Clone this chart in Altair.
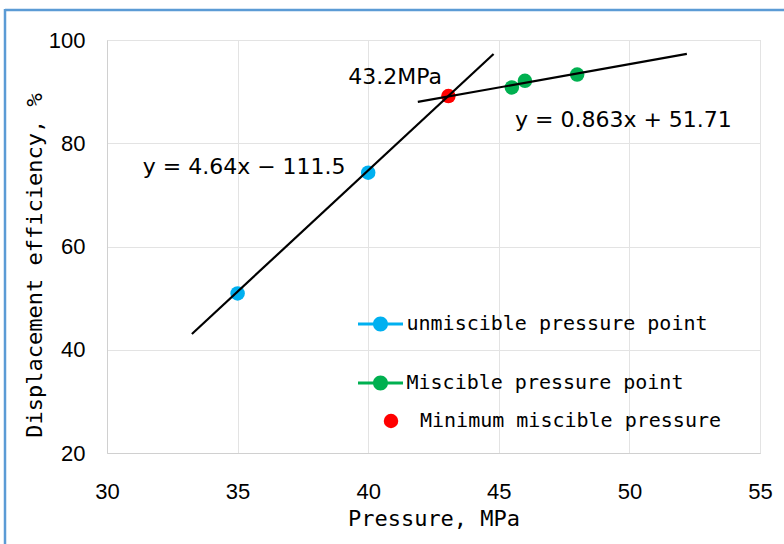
import altair as alt
import pandas as pd

# ---- data ----
unm_x = [35.0, 40.0]
unm_y = [50.9, 74.3]
mis_x = [45.5, 46.0, 48.0]
mis_y = [90.8, 92.1, 93.3]
mmp_x = [43.07]
mmp_y = [89.15]

trend1_x = [33.25, 44.8]
trend1_y = [43.05, 97.3]
trend2_x = [41.9, 52.2]
trend2_y = [88.0, 97.3]

series_names = ["unmiscible pressure point", "Miscible pressure point", "Minimum miscible pressure"]
series_colors = ["#00b0f0", "#00b050", "#ff0000"]

x_ticks = [30, 35, 40, 45, 50, 55]
y_ticks = [20, 40, 60, 80, 100]

eq1_text = ["y = 4.64x \u2212 111.5"]
eq1_pos = ([35.25], [75.4])
mmp_text = ["43.2MPa"]
mmp_pos = ([41.03], [92.8])
eq2_text = ["y = 0.863x + 51.71"]
eq2_pos = ([49.77], [84.5])

# ---- tables ----
pts = pd.DataFrame({
    "x": unm_x + mis_x,
    "y": unm_y + mis_y,
    "series": [series_names[0]] * len(unm_x) + [series_names[1]] * len(mis_x),
})
red = pd.DataFrame({"x": mmp_x, "y": mmp_y, "series": [series_names[2]]})
lines = pd.DataFrame({
    "x": trend1_x + trend2_x,
    "y": trend1_y + trend2_y,
    "trend": ["t1", "t1", "t2", "t2"],
})

xs = alt.Scale(domain=[30, 55], nice=False, zero=False)
ys = alt.Scale(domain=[20, 100], nice=False, zero=False)

grid_c = "#e3e3e3"
dom_c = "#d0d0d0"

x_axis = alt.Axis(values=x_ticks, grid=True, gridColor=grid_c, domainColor=dom_c, ticks=False,
                  labelFont="Liberation Sans", labelFontSize=22, labelColor="black", labelPadding=28,
                  labelFlush=False, labelOverlap=False,
                  title="Pressure, MPa", titleFont="DejaVu Sans Mono", titleFontSize=22,
                  titleFontWeight="normal", titleColor="black", titlePadding=6)
y_axis = alt.Axis(values=y_ticks, grid=True, gridColor=grid_c, domainColor=dom_c, ticks=False,
                  labelFont="Liberation Sans", labelFontSize=22, labelColor="black", labelPadding=22,
                  labelFlush=False, labelOverlap=False,
                  title="Displacement efficiency, %", titleFont="DejaVu Sans Mono", titleFontSize=22,
                  titleFontWeight="normal", titleColor="black", titlePadding=2, titleY=225)

line_circle = "M-3,-0.2H3V0.2H-3Z M1,0A1,1 0 1,1 -1,0A1,1 0 1,1 1,0Z"

points = alt.Chart(pts).mark_point(filled=True, size=210, opacity=1).encode(
    x=alt.X("x:Q", scale=xs, axis=x_axis),
    y=alt.Y("y:Q", scale=ys, axis=y_axis),
    color=alt.Color("series:N",
                    scale=alt.Scale(domain=series_names[:2], range=series_colors[:2]),
                    legend=alt.Legend(orient="none", legendX=263.5, legendY=274, title=None,
                                      symbolType=line_circle, symbolSize=225, symbolStrokeWidth=0,
                                      symbolOpacity=1, labelLimit=0,
                                      labelFont="DejaVu Sans Mono", labelFontSize=20, labelColor="black",
                                      labelOffset=16, rowPadding=39, padding=0)),
)

red_pt = alt.Chart(red).mark_point(filled=True, size=210, opacity=1).encode(
    x=alt.X("x:Q", scale=xs),
    y=alt.Y("y:Q", scale=ys),
    fill=alt.Fill("series:N",
                  scale=alt.Scale(domain=series_names[2:], range=series_colors[2:]),
                  legend=alt.Legend(orient="none", legendX=274, legendY=371, title=None,
                                    symbolType="circle", symbolSize=210, symbolStrokeWidth=0,
                                    symbolOpacity=1, labelLimit=0,
                                    labelFont="DejaVu Sans Mono", labelFontSize=20, labelColor="black",
                                    labelOffset=19, padding=0)),
)

trend = alt.Chart(lines).mark_line(color="black", strokeWidth=2.2).encode(
    x=alt.X("x:Q", scale=xs),
    y=alt.Y("y:Q", scale=ys),
    detail="trend:N",
)

def text_layer(txt, pos, align):
    df = pd.DataFrame({"x": pos[0], "y": pos[1], "t": txt})
    return alt.Chart(df).mark_text(font="DejaVu Sans", fontSize=22, color="black",
                                   align=align, baseline="middle").encode(
        x=alt.X("x:Q", scale=xs), y=alt.Y("y:Q", scale=ys), text="t:N")

t1 = text_layer(eq1_text, eq1_pos, "center")
t2 = text_layer(mmp_text, mmp_pos, "center")
t3 = text_layer(eq2_text, eq2_pos, "center")

dummy = pd.DataFrame({"k": [0]})
border_top = alt.Chart(dummy).mark_rule(color="#5b9bd5", strokeWidth=2.5).encode(
    x=alt.value(-102), x2=alt.value(800), y=alt.value(-30))
border_left = alt.Chart(dummy).mark_rule(color="#5b9bd5", strokeWidth=2.5).encode(
    x=alt.value(-102), y=alt.value(-31), y2=alt.value(600))

chart = alt.layer(points, red_pt, trend, t1, t2, t3, border_top, border_left).resolve_scale(
    color="independent"
).properties(
    width=653, height=413,
    padding={"left": 107, "top": 40, "right": 24, "bottom": 91},
    autosize="none",
    background="white",
).configure_view(stroke=dom_c, strokeWidth=1)

chart.save("out.html", embed_options={"renderer": "svg", "actions": False})
